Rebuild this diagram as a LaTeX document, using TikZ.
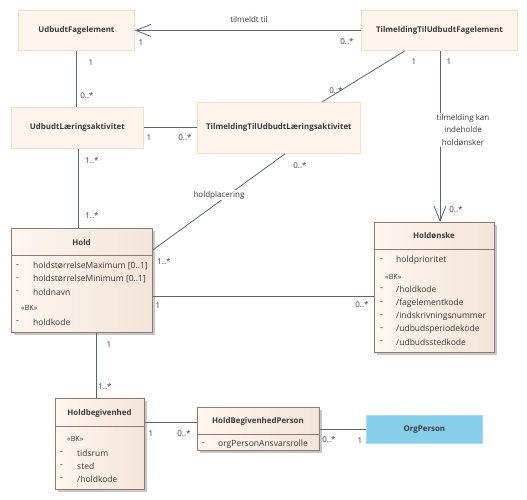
\documentclass[tikz,border=0pt]{standalone}
\usepackage{fontspec}
\setmainfont{Open Sans}
\usetikzlibrary{arrows.meta,shadows,calc}
\definecolor{ln}{HTML}{5C6478}
\definecolor{txt}{HTML}{3A3A3A}
\definecolor{pb}{HTML}{F6DCC4}
\definecolor{pf}{HTML}{FDF5EC}
\definecolor{cb}{HTML}{8E7A72}
\definecolor{cl}{HTML}{FDF6EF}
\definecolor{cr}{HTML}{F3E4D8}
\definecolor{ob}{HTML}{A9DCF0}
\definecolor{of}{HTML}{87CEEB}
\begin{document}
\begin{tikzpicture}[x=1pt,y=-1pt,
  every node/.style={text=txt},
  simple/.style={draw=pb, fill=pf, line width=0.8pt, inner sep=0pt, anchor=north west, font=\bfseries\fontsize{7.9}{9}\selectfont},
  cls/.style={draw=cb, left color=cl, right color=cr, line width=0.8pt, inner sep=0pt, anchor=north west,
    drop shadow={shadow xshift=2.5pt, shadow yshift=-2.5pt, fill=black!22, opacity=1}},
  ttl/.style={font=\bfseries\fontsize{7.9}{9}\selectfont, inner sep=0pt},
  attr/.style={font=\fontsize{8.5}{9}\selectfont, inner sep=0pt, anchor=west},
  stereo/.style={font=\fontsize{7.2}{8}\selectfont, inner sep=0pt, anchor=west},
  lbl/.style={font=\fontsize{8}{12.5}\selectfont, inner sep=0pt},
  conn/.style={draw=ln, line width=0.8pt},
  openarrow/.style={conn, -{Straight Barb[length=15pt,width=12pt,line width=0.8pt]}}
]
\useasboundingbox (0,0) rectangle (527,500);

% simple boxes
\node[simple, minimum width=116pt, minimum height=40pt] (uf) at (18,10) {UdbudtFagelement};
\node[simple, minimum width=156pt, minimum height=40pt] (tf) at (361,10) {TilmeldingTilUdbudtFagelement};
\node[simple, minimum width=132pt, minimum height=41pt] (ul) at (11,107) {UdbudtLæringsaktivitet};
\node[simple, minimum width=163pt, minimum height=51pt] (tl) at (197,102) {TilmeldingTilUdbudtLæringsaktivitet};
\node[draw=ob, fill=of, line width=0.8pt, inner sep=0pt, anchor=north west, minimum width=116pt, minimum height=28pt,
  font=\bfseries\fontsize{7.9}{9}\selectfont] (op) at (366,415) {OrgPerson};

% class boxes
\node[cls, minimum width=141pt, minimum height=104pt] (hold) at (11,228) {};
\node[cls, minimum width=120pt, minimum height=130pt] (ho) at (374,222) {};
\node[cls, minimum width=89pt, minimum height=91pt] (hb) at (55,398) {};
\node[cls, minimum width=122pt, minimum height=43pt] (hbp) at (197,407) {};

% Hold content
\node[ttl] (holdt) at (81.5,243) {Hold};
\draw[cb, line width=0.8pt] ($(hold.north west)+(0,27)$) -- ($(hold.north east)+(0,27)$);
\foreach \y/\t in {266/{holdstørrelseMaximum [0..1]},279/{holdstørrelseMinimum [0..1]},292/{holdnavn},322/{holdkode}}{
  \node[attr] at (16,\y) {-};
  \node[attr] at (33,\y) {\t};
}
\node[stereo] at (21,308) {«BK»};

% Holdønske content
\node[ttl] (hot) at (434,236) {Holdønske};
\draw[cb, line width=0.8pt] ($(ho.north west)+(0,27)$) -- ($(ho.north east)+(0,27)$);
\foreach \y/\t in {260/{holdprioritet},289/{/holdkode},303/{/fagelementkode},316/{/indskrivningsnummer},329/{/udbudsperiodekode},342/{/udbudsstedkode}}{
  \node[attr] at (380,\y) {-};
  \node[attr] at (396,\y) {\t};
}
\node[stereo] at (385,277) {«BK»};

% Holdbegivenhed content
\node[ttl] (hbt) at (99.5,413) {Holdbegivenhed};
\draw[cb, line width=0.8pt] ($(hb.north west)+(0,28)$) -- ($(hb.north east)+(0,28)$);
\foreach \y/\t in {453/{tidsrum},466/{sted},479/{/holdkode}}{
  \node[attr] at (60,\y) {-};
  \node[attr] at (77,\y) {\t};
}
\node[stereo] at (67,439) {«BK»};

% HoldBegivenhedPerson content
\node[ttl] (hbpt) at (258,421) {HoldBegivenhedPerson};
\draw[cb, line width=0.8pt] ($(hbp.north west)+(0,27)$) -- ($(hbp.north east)+(0,27)$);
\node[attr] at (202,444) {-};
\node[attr] at (218,444) {orgPersonAnsvarsrolle};

% connectors
\draw[openarrow] (tf.west) -- (uf.east);
\node[lbl] at (249,20) {tilmeldt til};
\node[lbl] at (141,43) {1};
\node[lbl] at (347,42) {0..*};

\draw[conn] (uf.south) -- (uf.south |- ul.north);
\node[lbl] at (91,63) {1};
\node[lbl] at (87,96) {0..*};

\draw[conn] (ul.east) -- (ul.east -| tl.west);
\node[lbl] at (149,138) {1};
\node[lbl] at (185,138) {0..*};

\draw[conn] ($(ul.south west)+(67,0)$) -- ($(hold.north west)+(67,0)$);
\node[lbl] at (92,161) {1..*};
\node[lbl] at (92,216) {1..*};

\draw[conn] ($(tf.south west)+(44,0)$) -- ($(tl.north east)+(-39,0)$);
\node[lbl] at (414,62) {1};
\node[lbl] at (336,91) {0..*};

\draw[openarrow] ($(tf.south west)+(79,0)$) -- ($(ho.north west)+(66,0)$);
\node[lbl, align=center, fill=white, inner sep=1pt] at (463,130) {tilmelding kan\\indeholde\\holdønsker};
\node[lbl] at (449,62) {1};
\node[lbl] at (456,210) {0..*};

\draw[conn] ($(tl.south west)+(88,0)$) -- ($(hold.north east)+(0,22)$);
\node[lbl, fill=white, inner sep=1pt] at (219,195) {holdplacering};
\node[lbl] at (300,166) {0..*};
\node[lbl] at (164,262) {1..*};

\draw[conn] ($(hold.north east)+(0,68)$) -- ($(ho.north west)+(0,74)$);
\node[lbl] at (158,306) {1};
\node[lbl] at (362,305) {0..*};

\draw[conn] ($(hold.south west)+(85,0)$) -- ($(hb.north west)+(41,0)$);
\node[lbl] at (109,345) {1};
\node[lbl] at (105,387) {1..*};

\draw[conn] ($(hb.north east)+(0,24)$) -- ($(hbp.north west)+(0,15)$);
\node[lbl] at (151,434) {1};
\node[lbl] at (184,434) {0..*};

\draw[conn] ($(hbp.north east)+(0,22)$) -- ($(op.north west)+(0,14)$);
\node[lbl] at (329,440) {0..*};
\node[lbl] at (360,441) {1};
\end{tikzpicture}
\end{document}
